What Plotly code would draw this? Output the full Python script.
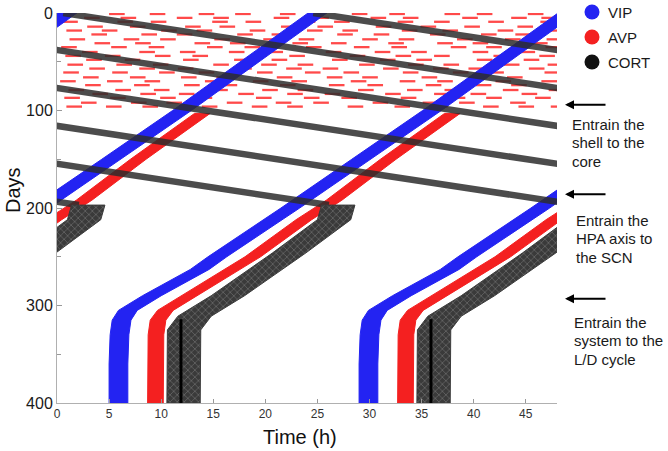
import plotly.graph_objects as go

# ---------------- data ----------------
# VIP (blue) band centre phase (h, unwrapped) per day
vip_days = [0, 50, 100, 150, 200, 250, 263, 290, 305, 315, 330, 360, 400]
vip_phase = [25.0, 18.5, 12.0, 5.2, -1.6, -8.6, -10.3, -14.9, -17.2, -17.8, -18.0, -18.1, -18.1]
vip_width = 1.8

# AVP (red) synchronised band centre phase
avp_days = [103, 150, 192, 212, 250, 290, 305, 315, 330, 400]
avp_phase = [13.95, 7.8, 2.6, -0.3, -5.2, -11.3, -13.6, -14.3, -14.5, -14.55]
avp_width = 1.5

# AVP desynchronised dashes (days 0-100): row day and dash start times (h)
avp_dash_days = [1, 5, 9, 14, 18, 22, 27, 31, 35, 40, 44, 48, 53, 57, 61, 66, 70, 74, 79, 83, 87, 92, 96]
avp_dash_starts = [
    [5.0, 8.9, 13.6, 17.1, 21.4, 28.3, 31.9, 37.2, 40.3, 45.2],
    [2.6, 6.1, 11.5, 15.0, 20.8, 24.6, 30.1, 33.2, 38.9, 43.6, 46.5],
    [0.5, 5.8, 9.0, 14.9, 18.1, 23.3, 26.6, 32.7, 36.2, 41.4, 46.4],
    [2.9, 7.0, 12.3, 15.6, 21.5, 25.0, 30.6, 34.9, 39.1, 44.2],
    [0.9, 4.3, 10.0, 13.4, 18.5, 24.0, 27.4, 33.1, 37.0, 42.3, 46.7],
    [3.3, 8.1, 11.5, 17.3, 20.6, 26.9, 30.4, 35.8, 40.7, 44.0],
    [1.2, 6.4, 9.9, 15.1, 19.8, 23.2, 29.3, 32.8, 38.4, 43.0, 47.0],
    [3.6, 7.5, 13.2, 16.6, 22.6, 26.3, 31.8, 36.5, 39.9, 45.6],
    [0.4, 5.2, 8.8, 14.4, 18.0, 23.9, 28.5, 32.1, 37.8, 41.2, 46.9],
    [2.4, 7.9, 11.8, 16.5, 20.2, 25.8, 30.5, 34.0, 39.9, 44.4],
    [0.8, 4.6, 9.4, 13.0, 18.6, 22.3, 28.1, 32.5, 36.2, 41.9, 46.3],
    [2.8, 6.5, 12.1, 17.0, 20.6, 26.4, 31.0, 34.5, 40.3, 44.8],
    [1.0, 5.7, 9.2, 15.0, 19.6, 23.1, 29.0, 33.7, 37.1, 42.9, 47.1],
    [3.1, 7.9, 11.6, 17.2, 22.0, 25.5, 31.3, 36.1, 39.5, 45.3],
    [0.6, 5.3, 9.8, 13.6, 19.2, 23.8, 27.5, 33.2, 38.0, 41.4, 46.8],
    [2.5, 7.0, 11.9, 15.3, 21.1, 25.9, 29.3, 35.0, 39.8, 43.2],
    [0.3, 4.8, 8.4, 14.2, 18.8, 22.5, 28.2, 32.9, 36.5, 42.1, 46.5],
    [2.7, 7.4, 12.2, 15.8, 21.4, 26.1, 29.8, 35.4, 40.2, 43.6],
    [1.1, 5.6, 9.3, 14.9, 19.7, 23.1, 28.9, 33.6, 37.2, 42.8, 47.2],
    [3.4, 8.0, 11.7, 17.4, 22.1, 25.7, 31.5, 36.2, 39.7, 44.6],
    [0.7, 5.1, 9.9, 13.4, 19.1, 23.7, 27.3, 33.0, 37.7, 41.2, 45.9],
    [2.3, 7.1, 10.5, 16.3, 21.0, 24.6, 30.3, 35.1, 38.6, 43.5],
    [0.9, 4.7, 8.2, 13.9, 18.7, 22.1, 27.9, 32.4, 36.0, 40.9, 44.3, 47.4],
]
avp_dash_len = 1.5

# CORT free-running (days 0-197), unwrapped phase
cort_free_days = [0, 197]
cort_free_phase = [0.6, 122.1]

# CORT entrained band centre phase
cort_days = [197, 212, 246, 290, 311, 325, 400]
cort_phase = [3.0, 2.6, -1.7, -7.6, -10.8, -11.8, -11.85]
cort_width = 3.2

# CORT dark core line inside the entrained band
cort_core_days = [314, 400]
cort_core_phase = [-12.1, -12.1]

x_ticks = [0, 5, 10, 15, 20, 25, 30, 35, 40, 45]
y_ticks = [0, 100, 200, 300, 400]
y_minor = [50, 150, 250, 350]

legend_names = ["VIP", "AVP", "CORT"]
legend_colors = ["#2323f2", "#f42020", "#111111"]

notes = [
    ["Entrain the", "shell to the", "core"],
    ["Entrain the", "HPA axis to", "the SCN"],
    ["Entrain the", "system to the", "L/D cycle"],
]
arrow_days = [94, 186, 293]

# ---------------- figure ----------------
BLUE, RED = "#2323f2", "#f42020"
FONT = "Liberation Sans, Arial, sans-serif"
W, H = 668, 451
ML, MR, MT, MB = 57, 111, 13, 48
PW, PH = W - ML - MR, H - MT - MB
SHIFTS = [-24, 0, 24, 48]


def px_x(px):                # pixel -> paper fraction
    return (px - ML) / PW


def px_y(py):
    return (H - MB - py) / PH


def band(days, centers, width, shift):
    h = width / 2.0
    xs = [c - h + shift for c in centers] + [c + h + shift for c in reversed(centers)]
    ys = list(days) + list(reversed(days))
    return xs + [xs[0]], ys + [ys[0]]


fig = go.Figure()

# AVP dashes
dx, dy = [], []
for d, starts in zip(avp_dash_days, avp_dash_starts):
    for s in starts:
        dx += [s, s + avp_dash_len, None]
        dy += [d, d, None]
fig.add_trace(go.Scatter(x=dx, y=dy, mode="lines", line=dict(color="#ff4a4a", width=2.3),
                         hoverinfo="skip", showlegend=False))

# VIP band
for s in SHIFTS:
    xs, ys = band(vip_days, vip_phase, vip_width, s)
    fig.add_trace(go.Scatter(x=xs, y=ys, mode="lines", fill="toself", fillcolor=BLUE,
                             line=dict(color=BLUE, width=1), hoverinfo="skip", showlegend=False))

# AVP band
for s in SHIFTS:
    xs, ys = band(avp_days, avp_phase, avp_width, s)
    fig.add_trace(go.Scatter(x=xs, y=ys, mode="lines", fill="toself", fillcolor=RED,
                             line=dict(color=RED, width=1), hoverinfo="skip", showlegend=False))

# CORT free-running lines (double plotted copies)
for m in range(-1, 6):
    fig.add_trace(go.Scatter(x=[p - 24 * m for p in cort_free_phase], y=cort_free_days,
                             mode="lines", line=dict(color="rgba(45,45,45,0.85)", width=6.5),
                             hoverinfo="skip", showlegend=False))

# CORT entrained band
for s in SHIFTS:
    xs, ys = band(cort_days, cort_phase, cort_width, s)
    fig.add_trace(go.Scatter(x=xs, y=ys, mode="lines", fill="toself", fillcolor="#3c3c3c",
                             fillpattern=dict(shape="x", bgcolor="#3a3a3a", fgcolor="#a0a0a0",
                                              size=5, solidity=0.25),
                             line=dict(color="#3c3c3c", width=1), hoverinfo="skip", showlegend=False))

for s in SHIFTS:
    fig.add_trace(go.Scatter(x=[p + s for p in cort_core_phase], y=cort_core_days, mode="lines",
                             line=dict(color="#000000", width=3), hoverinfo="skip", showlegend=False))

# legend (circles + labels)
shapes, annotations = [], []
for i, (name, col) in enumerate(zip(legend_names, legend_colors)):
    cy = 12 + 25 * i
    shapes.append(dict(type="circle", xref="paper", yref="paper", xsizemode="pixel", ysizemode="pixel",
                       xanchor=px_x(592), yanchor=px_y(cy), x0=-7.5, x1=7.5, y0=-7.5, y1=7.5,
                       fillcolor=col, line=dict(width=0)))
    annotations.append(dict(x=px_x(606), y=px_y(cy), xref="paper", yref="paper", text=name,
                            showarrow=False, xanchor="left", yanchor="middle",
                            font=dict(family=FONT, size=15, color="#1a1a1a")))

# arrows and notes
note_x = [570, 574, 572]
note_top = [124, 220, 322]
for i, d in enumerate(arrow_days):
    py = MT + d * PH / 400.0
    annotations.append(dict(x=px_x(565), y=px_y(py), xref="paper", yref="paper", text="",
                            showarrow=True, ax=42, ay=0, arrowhead=2, arrowsize=0.9,
                            arrowwidth=2, arrowcolor="#000000", standoff=0))
    for j, line in enumerate(notes[i]):
        annotations.append(dict(x=px_x(note_x[i]), y=px_y(note_top[i] + 18.5 * j), xref="paper",
                                yref="paper", text=line, showarrow=False, xanchor="left",
                                yanchor="middle", font=dict(family=FONT, size=15, color="#1a1a1a")))

# axis titles
annotations.append(dict(x=px_x(300), y=px_y(437), xref="paper", yref="paper", text="Time (h)",
                        showarrow=False, xanchor="center", yanchor="middle",
                        font=dict(family=FONT, size=20, color="#111111")))
annotations.append(dict(x=px_x(13), y=px_y(190), xref="paper", yref="paper", text="Days",
                        showarrow=False, xanchor="center", yanchor="middle", textangle=-90,
                        font=dict(family=FONT, size=20, color="#111111")))

fig.update_layout(
    width=W, height=H, margin=dict(l=ML, r=MR, t=MT, b=MB, autoexpand=False),
    paper_bgcolor="white", plot_bgcolor="white",
    showlegend=False, shapes=shapes, annotations=annotations,
    xaxis=dict(range=[0, 48], tickvals=x_ticks, ticks="inside", ticklen=4, tickcolor="#999",
               showline=True, linecolor="#b0b0b0", linewidth=1, showgrid=False, zeroline=False,
               automargin=False, tickfont=dict(family=FONT, size=12, color="#333")),
    yaxis=dict(range=[400, 0], tickvals=y_ticks, ticks="inside", ticklen=5, tickcolor="#999",
               showline=True, linecolor="#b0b0b0", linewidth=1, showgrid=False, zeroline=False,
               automargin=False, ticklabeloverflow="allow",
               minor=dict(tickvals=y_minor, ticks="inside", ticklen=4, tickcolor="#999"),
               tickfont=dict(family=FONT, size=16, color="#1a1a1a")),
)

fig.write_html("out.html", config={"displayModeBar": False},
               post_script="document.body.style.margin='0px';document.body.style.overflow='hidden';")
